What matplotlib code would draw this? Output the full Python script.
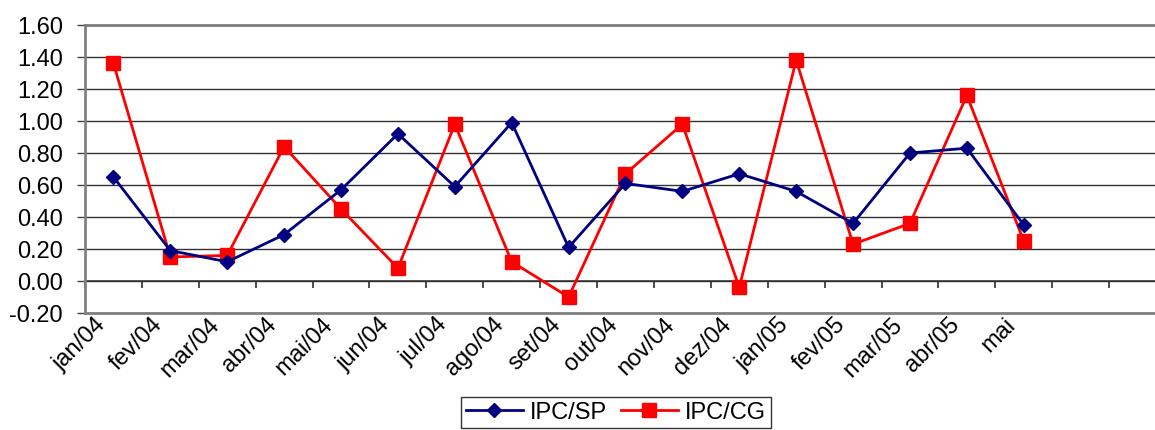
import matplotlib
matplotlib.use("Agg")
import matplotlib.pyplot as plt
import matplotlib.transforms as mtransforms
import numpy as np

plt.rcParams['font.family'] = ['Liberation Sans', 'DejaVu Sans']

months = ["jan/04", "fev/04", "mar/04", "abr/04", "mai/04", "jun/04", "jul/04",
          "ago/04", "set/04", "out/04", "nov/04", "dez/04", "jan/05", "fev/05",
          "mar/05", "abr/05", "mai"]
ipc_sp = [0.65, 0.19, 0.12, 0.29, 0.57, 0.92, 0.59, 0.99, 0.21, 0.61, 0.56,
          0.67, 0.56, 0.36, 0.80, 0.83, 0.35]
ipc_cg = [1.36, 0.15, 0.16, 0.84, 0.45, 0.08, 0.98, 0.12, -0.10, 0.67, 0.98,
          -0.04, 1.38, 0.23, 0.36, 1.16, 0.25]
n_slots = 19  # two empty categories after "mai"

fig = plt.figure(figsize=(11.55, 4.30), dpi=100)
ax = fig.add_axes([85 / 1155, 117 / 430, 1081 / 1155, 288 / 430])

x = np.arange(len(months))
ax.plot(x, ipc_sp, color="#000080", lw=2, marker="D", ms=7.5, label="IPC/SP", zorder=4)
ax.plot(x, ipc_cg, color="#FF0000", lw=2, marker="s", ms=10.5, label="IPC/CG", zorder=3)

ax.set_xlim(-0.5, n_slots - 0.5)
ax.set_ylim(-0.2, 1.6)
yt = np.arange(-0.2, 1.61, 0.2)
ax.set_yticks(yt)
ax.set_yticklabels([f"{v:.2f}" for v in yt], fontsize=17)
ax.yaxis.grid(True, color="#303030", lw=1)
ax.set_axisbelow(True)
ax.tick_params(axis="y", direction="out", length=6, width=1, color="#404040", pad=10)

# category labels under the plot area
ax.set_xticks(x)
ax.set_xticklabels(months, rotation=45, ha="right", va="top",
                   rotation_mode="anchor", fontsize=17)
ax.tick_params(axis="x", length=0, pad=0.5)
offset = mtransforms.ScaledTranslation(-19 / 100, 0, fig.dpi_scale_trans)
for lbl in ax.get_xticklabels():
    lbl.set_transform(lbl.get_transform() + offset)

# horizontal axis line at zero with tick marks between categories
sec = ax.secondary_xaxis(0.2 / 1.8)
sec.set_xticks(np.arange(-0.5, n_slots, 1.0))
sec.set_xticklabels([])
sec.tick_params(direction="out", length=5, width=1.2, color="#303030")
sec.spines["bottom"].set_color("#404040")
sec.spines["bottom"].set_linewidth(1.2)

for side in ["top", "left", "bottom", "right"]:
    ax.spines[side].set_color("#808080")
    ax.spines[side].set_linewidth(2)

leg = fig.legend(loc="upper center", bbox_to_anchor=(616 / 1155, 1 - 397 / 430),
                 ncol=2, fontsize=17, frameon=True, fancybox=False,
                 edgecolor="black", handlelength=2.4, columnspacing=0.6,
                 handletextpad=0.3, borderpad=0.2, borderaxespad=0)
leg.get_frame().set_linewidth(1)

fig.savefig("out.png", dpi=100)
